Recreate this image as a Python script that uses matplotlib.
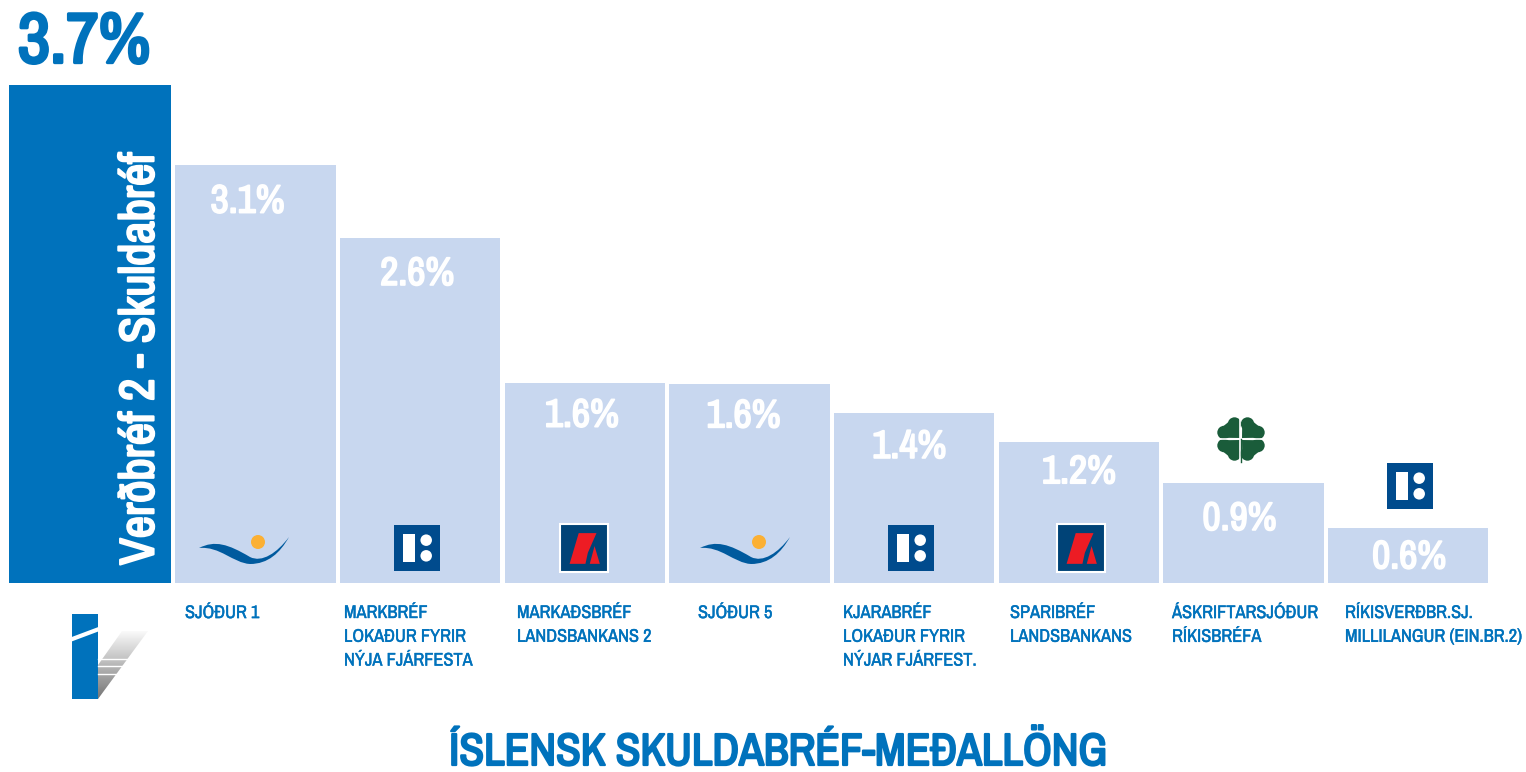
import numpy as np
import matplotlib
matplotlib.use('Agg')
import matplotlib.pyplot as plt
import matplotlib.patheffects as pe
from matplotlib.patches import Circle, PathPatch, Polygon, Rectangle
from matplotlib.path import Path

# bar heights (the printed labels are rounded differently)
funds = ['Verðbréf 2 - Skuldabréf', 'SJÓÐUR 1', 'MARKBRÉF\nLOKAÐUR FYRIR\nNÝJA FJÁRFESTA',
         'MARKAÐSBRÉF\nLANDSBANKANS 2', 'SJÓÐUR 5', 'KJARABRÉF\nLOKAÐUR FYRIR\nNÝJAR FJÁRFEST.',
         'SPARIBRÉF\nLANDSBANKANS', 'ÁSKRIFTARSJÓÐUR\nRÍKISBRÉFA', 'RÍKISVERÐBR.SJ.\nMILLILANGUR (EIN.BR.2)']
heights = [3.70, 3.105, 2.56, 1.485, 1.48, 1.26, 1.05, 0.74, 0.41]
value_labels = ['3.7%', '3.1%', '2.6%', '1.6%', '1.6%', '1.4%', '1.2%', '0.9%', '0.6%']
chart_title = 'ÍSLENSK SKULDABRÉF-MEÐALLÖNG'

BLUE = '#0072BC'
LIGHT = '#C8D7EF'
NAVY = '#004B8D'
NARROW = ['Archivo Narrow', 'Liberation Sans']
W, H = 1526, 772


def heavy(color, width):
    # the narrow font only has one weight here, so thicken it with a stroke
    return [pe.withStroke(linewidth=width, foreground=color)]


fig = plt.figure(figsize=(W / 100, H / 100), dpi=100, facecolor='white')

# bars: baseline at y=583px, 1 unit = 134.6px
ax = fig.add_axes([8.5 / W, 1 - 583 / H, 1482 / W, 583 / H])
colors = [BLUE] + [LIGHT] * 8
bars = ax.bar(range(len(heights)), heights, width=0.975, color=colors)
# the first bar is a bit wider and sits hard left
bars[0].set_x(-0.497)
bars[0].set_width(0.985)
ax.set_xlim(-0.5, 8.5)
ax.set_ylim(0, 583 / 134.6)
ax.axis('off')

# value labels hang below the bar tops, not quite centred
drops = [37, 36, 33, 33, 34, 31, 36, 30]
nudges = [-8, -3, -3, -6, -5, 0, -4, 1]
for i, (h, lab, d, n) in enumerate(zip(heights[1:], value_labels[1:], drops, nudges), start=1):
    ax.annotate(lab, (i, h), xytext=(n * 0.72, -d * 0.72), textcoords='offset points', ha='center',
                va='center', color='white', fontsize=28.5, family=NARROW,
                path_effects=heavy('white', 1.3))

# everything else is placed in pixel coordinates
ov = fig.add_axes([0, 0, 1, 1])
ov.axis('off')


def wave(dx):
    pts = [(199, 548), (215, 540), (228, 544), (250, 557), (262, 563), (277, 553), (289, 537),
           (280, 553), (268, 564), (250, 564), (233, 563), (220, 546), (199, 548)]
    codes = [Path.MOVETO] + [Path.CURVE4] * 12
    ov.add_patch(PathPatch(Path([(x + dx, y) for x, y in pts], codes), fc='#005A9E', ec='none'))
    ov.add_patch(Circle((258 + dx, 542), 7, fc='#FBB034', ec='none'))


def kb_logo(x, y, s=46):
    ov.add_patch(Rectangle((x, y), s, s, fc=NAVY, ec='none'))
    ov.add_patch(Rectangle((x + 0.2 * s, y + 0.2 * s), 0.26 * s, 0.6 * s, fc='white', ec='none'))
    ov.add_patch(Circle((x + 0.7 * s, y + 0.33 * s), 0.125 * s, fc='white', ec='none'))
    ov.add_patch(Circle((x + 0.7 * s, y + 0.67 * s), 0.125 * s, fc='white', ec='none'))


def lb_logo(x, y, s=48):
    ov.add_patch(Rectangle((x, y), s, s, fc='#004377', ec='white', lw=1.5))
    left = [(0.2, 0.83), (0.39, 0.19), (0.76, 0.19), (0.58, 0.6), (0.53, 0.83)]
    right = [(0.72, 0.46), (0.83, 0.83), (0.62, 0.83)]
    for shape in (left, right):
        ov.add_patch(Polygon([(x + a * s, y + b * s) for a, b in shape], fc='#ED1C24', ec='none'))


def clover(cx, cy):
    green = '#1A5C3A'
    for sx, sy in [(-1, -1), (1, -1), (-1, 1), (1, 1)]:
        # two round humps and a point towards the middle
        c1 = (cx + sx * 6.5, cy + sy * 15)
        c2 = (cx + sx * 17, cy + sy * 6.5)
        ov.add_patch(Circle(c1, 6.7, fc=green, ec='none'))
        ov.add_patch(Circle(c2, 6.7, fc=green, ec='none'))
        ov.add_patch(Polygon([(cx + sx, cy + sy), (cx + sx * 1.2, cy + sy * 15),
                              (cx + sx * 10, cy + sy * 19), (cx + sx * 20, cy + sy * 11),
                              (cx + sx * 16, cy + sy * 1.2)], fc=green, ec='none'))
    ov.plot([cx - 1, cx - 1], [cy - 23, cy + 23], color='white', lw=1.2)
    ov.plot([cx - 24, cx + 24], [cy, cy], color='white', lw=1.2)
    ov.plot([cx - 0.5, cx - 0.5], [cy, cy + 23], color=green, lw=1)


def v_logo():
    grad = np.linspace(0, 1, 64).reshape(-1, 1)
    im = ov.imshow(grad, extent=(98, 148, 699, 631), cmap='gray_r', vmin=-0.05, vmax=1.9,
                   aspect='auto', interpolation='bilinear')
    clip = Polygon([(98, 699), (148, 631), (122, 631), (98, 665)], transform=ov.transData,
                   fc='none', ec='none')
    ov.add_patch(clip)
    im.set_clip_path(clip)
    for yy in (659, 666, 674):
        ov.plot([98, 135], [yy, yy], color='white', lw=1)
    ov.add_patch(Rectangle((72, 614), 26, 85, fc=BLUE, ec='none'))
    ov.plot([71, 99], [639.5, 629], color='white', lw=3, solid_capstyle='butt')


wave(0)
wave(501)
kb_logo(394, 525)
kb_logo(888, 525)
kb_logo(1387, 463)
lb_logo(560, 524)
lb_logo(1057, 524)
clover(1241, 439)
v_logo()

ov.set_xlim(0, W)
ov.set_ylim(H, 0)

ov.text(84, 43, value_labels[0], ha='center', va='center', color=BLUE, fontsize=51,
        family=NARROW, path_effects=heavy(BLUE, 2.4))
ov.text(140, 359, funds[0], rotation=90, ha='center', va='center', color='white', fontsize=35,
        family=NARROW, path_effects=heavy('white', 1.6))

# category labels under the bars, left aligned
label_x = [185, 344, 517, 698, 843, 1010, 1172, 1345]
for x, name in zip(label_x, funds[1:]):
    ov.text(x, 605, name, ha='left', va='top', color=BLUE, fontsize=13.2, linespacing=1.6,
            family=NARROW, path_effects=heavy(BLUE, 0.3))

ov.text(778, 753, chart_title, ha='center', va='center', color=BLUE, fontsize=32.5,
        family=NARROW, path_effects=heavy(BLUE, 1.6))

fig.savefig('out.png', dpi=100)
